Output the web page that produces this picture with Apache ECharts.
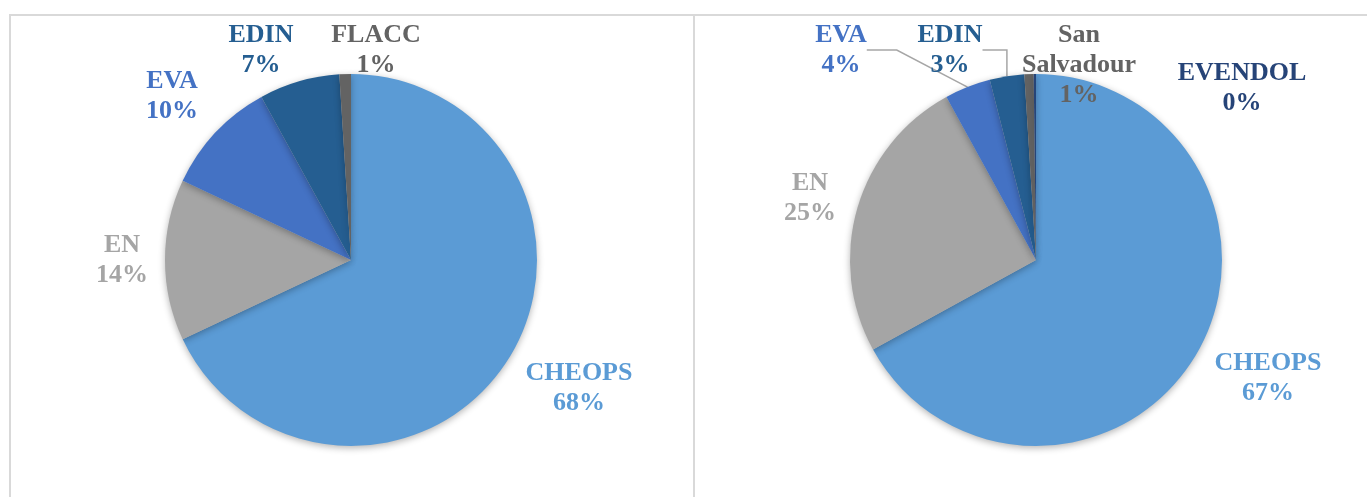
<!DOCTYPE html>
<html>
<head>
<meta charset="utf-8">
<script src="https://cdn.jsdelivr.net/npm/echarts@6/dist/echarts.min.js"></script>
<style>
  html, body { margin: 0; padding: 0; background: #fff; }
  #main { width: 1367px; height: 497px; }
</style>
</head>
<body>
<div id="main"></div>
<script>
// left pie
const leftNames = ["CHEOPS", "EN", "EVA", "EDIN", "FLACC"];
const leftValues = [68, 14, 10, 7, 1];
// right pie
const rightNames = ["CHEOPS", "EN", "EVA", "EDIN", "San Salvadour", "EVENDOL"];
const rightValues = [67, 25, 4, 3, 0.8, 0.2];

const sliceColors = {
  "CHEOPS": "#5B9BD5",
  "EN": "#A5A5A5",
  "EVA": "#4472C4",
  "EDIN": "#255E91",
  "FLACC": "#636363",
  "San Salvadour": "#636363",
  "EVENDOL": "#264478"
};

// label centres (px), same order as the names
const leftLabelPos = [[579, 388], [122, 260], [172, 96], [261, 50], [376, 50]];
const rightLabelPos = [[1268, 378], [810, 198], [841, 50], [950, 50], [1079, 65], [1242, 88]];
const rightWithLine = ["EVA", "EDIN"];

const chart = echarts.init(document.getElementById("main"));

function buildData(names, values, withLine) {
  return names.map((n, i) => ({
    name: n,
    value: values[i],
    itemStyle: { color: sliceColors[n] },
    label: { color: sliceColors[n] },
    labelLine: { show: withLine.indexOf(n) >= 0 }
  }));
}

function makePie(names, values, center, labelPos, withLine) {
  return {
    type: "pie",
    center: center,
    radius: 186,
    startAngle: 90,
    clockwise: true,
    percentPrecision: 0,
    animation: false,
    itemStyle: {
      borderWidth: 0,
      shadowBlur: 7,
      shadowOffsetY: 2,
      shadowColor: "rgba(0,0,0,0.3)"
    },
    label: {
      show: true,
      position: "outside",
      fontFamily: "Liberation Serif",
      fontWeight: "bold",
      fontSize: 26,
      lineHeight: 30,
      align: "center",
      formatter: (p) => p.name.replace(" ", "\n") + "\n" + p.percent + "%"
    },
    labelLine: {
      show: false,
      lineStyle: { color: "#a6a6a6", width: 1.5 }
    },
    labelLayout: (p) => ({
      x: labelPos[p.dataIndex][0],
      y: labelPos[p.dataIndex][1],
      align: "center",
      verticalAlign: "middle"
    }),
    emphasis: { disabled: true },
    data: buildData(names, values, withLine)
  };
}

const border = { stroke: "#d9d9d9", lineWidth: 2 };

chart.setOption({
  backgroundColor: "#fff",
  graphic: [
    { type: "line", shape: { x1: 9, y1: 15, x2: 1367, y2: 15 }, style: border, silent: true },
    { type: "line", shape: { x1: 10, y1: 15, x2: 10, y2: 497 }, style: border, silent: true },
    { type: "line", shape: { x1: 694, y1: 15, x2: 694, y2: 497 }, style: border, silent: true }
  ],
  series: [
    makePie(leftNames, leftValues, [351, 260], leftLabelPos, []),
    makePie(rightNames, rightValues, [1036, 260], rightLabelPos, rightWithLine)
  ]
});
</script>
</body>
</html>
